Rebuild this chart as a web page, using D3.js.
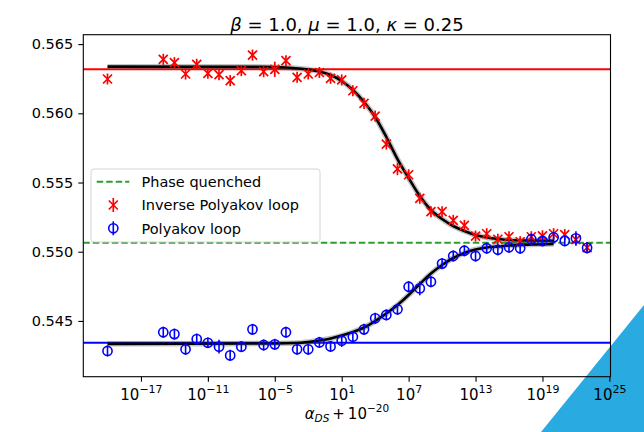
<!DOCTYPE html>
<html>
<head>
  <meta charset="utf-8">
  <script src="https://cdn.jsdelivr.net/npm/d3@7"></script>
  <style>
    body { margin: 0; background: #fff; }
    svg { font-family: "DejaVu Sans", sans-serif; display: block; }
  </style>
</head>
<body>
  <main id="container"></main>

  <script>
    // coupling values (alpha = 0 is plotted at alpha + 1e-20)
    const alpha = [0, 1e-15, 1e-14, 1e-13, 1e-12, 1e-11, 1e-10, 1e-9, 1e-8, 1e-7, 1e-6,
      1e-5, 1e-4, 1e-3, 1e-2, 1e-1, 1e0, 1e1, 1e2, 1e3, 1e4, 1e5, 1e6, 1e7, 1e8, 1e9,
      1e10, 1e11, 1e12, 1e13, 1e14, 1e15, 1e16, 1e17, 1e18, 1e19, 1e20, 1e21, 1e22, 1e23];
    const shift = 1e-20;

    const invPolyakov = [0.56248, 0.56390, 0.56366, 0.56284, 0.56354, 0.56289, 0.56279, 0.56236,
      0.56308, 0.56421, 0.56301, 0.56318, 0.56380, 0.56260, 0.56284, 0.56295, 0.56253, 0.56241,
      0.56163, 0.56072, 0.55980, 0.55778, 0.55598, 0.55556, 0.55386, 0.55289, 0.55289, 0.55226,
      0.55190, 0.55113, 0.55130, 0.55090, 0.55108, 0.55072, 0.55108, 0.55115, 0.55130, 0.55124,
      0.55088, 0.55030];
    const invPolyakovErr = [0.0004, 0.0004, 0.0004, 0.0004, 0.0004, 0.0004, 0.0004, 0.0004,
      0.0004, 0.0004, 0.0004, 0.00055, 0.0004, 0.0004, 0.0004, 0.0004, 0.0004, 0.0004,
      0.0004, 0.0004, 0.0004, 0.0004, 0.00045, 0.0004, 0.0004, 0.0004, 0.0004, 0.0004,
      0.0004, 0.0004, 0.0004, 0.0004, 0.0004, 0.0004, 0.0004, 0.0004, 0.0004, 0.0004,
      0.00045, 0.0004];

    const polyakov = [0.54283, 0.54418, 0.54405, 0.54295, 0.54369, 0.54342, 0.54314, 0.54251,
      0.54314, 0.54439, 0.54326, 0.54331, 0.54418, 0.54295, 0.54295, 0.54345, 0.54316, 0.54357,
      0.54386, 0.54439, 0.54519, 0.54543, 0.54584, 0.54747, 0.54735, 0.54783, 0.54914, 0.54969,
      0.55007, 0.54969, 0.55025, 0.55014, 0.55032, 0.55025, 0.55090, 0.55078, 0.55104, 0.55078,
      0.55097, 0.55028];
    const polyakovErr = [0.0004, 0.0004, 0.0004, 0.0004, 0.0004, 0.00038, 0.0005, 0.0004,
      0.0004, 0.0004, 0.0004, 0.0004, 0.0004, 0.0004, 0.0004, 0.0004, 0.0004, 0.00045,
      0.0004, 0.0004, 0.0004, 0.0004, 0.0004, 0.0004, 0.0005, 0.0004, 0.0004, 0.0004,
      0.0004, 0.0004, 0.0004, 0.0004, 0.0004, 0.0004, 0.0004, 0.0004, 0.0004, 0.0004,
      0.0005, 0.0004];

    // fitted curves (log10 of alpha + 1e-20)
    const invFitLog = [-20, -6, -4, -2, -1, 0, 1, 2, 3, 4, 5, 6, 7, 8, 9, 10, 11, 12, 13, 14, 15, 16, 18, 20];
    const invFit = [0.56337, 0.563355, 0.56331, 0.563165, 0.56302, 0.562767, 0.562334, 0.561684,
      0.560817, 0.559733, 0.558288, 0.556698, 0.555325, 0.554024, 0.553013, 0.552362, 0.551857,
      0.551496, 0.551207, 0.551026, 0.550918, 0.550846, 0.55081, 0.550795];
    const polFitLog = [-20, -5, -3, -2, -1, 0, 1, 2, 3, 4, 5, 6, 7, 8, 9, 10, 11, 12, 13, 14, 15, 16, 18, 20];
    const polFit = [0.543345, 0.543367, 0.543403, 0.543475, 0.543584, 0.543728, 0.543945, 0.544198,
      0.544523, 0.544993, 0.545535, 0.546149, 0.546871, 0.547666, 0.548425, 0.549039, 0.549545,
      0.549906, 0.550159, 0.550303, 0.550376, 0.550448, 0.55052, 0.550556];

    // reference levels
    const invLevel = 0.56318;
    const polLevel = 0.54342;
    const quenched = 0.55065;

    const yTicks = [0.545, 0.550, 0.555, 0.560, 0.565];
    const xTickExp = [-17, -11, -5, 1, 7, 13, 19, 25];
    const legendLabels = ["Phase quenched", "Inverse Polyakov loop", "Polyakov loop"];
    const title = [["β", true], [" = 1.0, ", false], ["μ", true], [" = 1.0, ", false], ["κ", true], [" = 0.25", false]];

    const width = 644, height = 432;
    const plotL = 83.3, plotR = 610.5, plotT = 34.7, plotB = 376.7;
    const red = "#ff0000", blue = "#0000ff", green = "#2ca02c";

    const svg = d3.select("#container").append("svg")
      .attr("width", width)
      .attr("height", height);

    // decorative corner
    svg.append("polygon")
      .attr("points", "644,305 541,432 644,432")
      .attr("fill", "#29abe2");

    const x = d3.scaleLog()
      .domain([Math.pow(10, -22.17), Math.pow(10, 25.1)])
      .range([plotL, plotR]);
    const y = d3.scaleLinear()
      .domain([0.54097, 0.56568])
      .range([plotB, plotT]);

    const plot = svg.append("g");

    // horizontal reference lines
    plot.append("line")
      .attr("x1", plotL).attr("x2", plotR)
      .attr("y1", y(invLevel)).attr("y2", y(invLevel))
      .attr("stroke", red).attr("stroke-width", 2);
    plot.append("line")
      .attr("x1", plotL).attr("x2", plotR)
      .attr("y1", y(polLevel)).attr("y2", y(polLevel))
      .attr("stroke", blue).attr("stroke-width", 2);
    plot.append("line")
      .attr("x1", plotL).attr("x2", plotR)
      .attr("y1", y(quenched)).attr("y2", y(quenched))
      .attr("stroke", green).attr("stroke-width", 2)
      .attr("stroke-dasharray", "6.5,3");

    // fits
    const fitLine = d3.line()
      .x(d => x(Math.pow(10, d[0])))
      .y(d => y(d[1]))
      .curve(d3.curveMonotoneX);

    [[invFitLog, invFit], [polFitLog, polFit]].forEach(([lx, ly]) => {
      const pts = lx.map((v, i) => [v, ly[i]]);
      plot.append("path").attr("d", fitLine(pts))
        .attr("fill", "none").attr("stroke", "#555").attr("stroke-opacity", 0.35)
        .attr("stroke-width", 5.5);
      plot.append("path").attr("d", fitLine(pts))
        .attr("fill", "none").attr("stroke", "#000").attr("stroke-width", 2.6);
    });

    // data
    const invData = alpha.map((a, i) => ({ a: a + shift, v: invPolyakov[i], e: invPolyakovErr[i] }));
    const polData = alpha.map((a, i) => ({ a: a + shift, v: polyakov[i], e: polyakovErr[i] }));

    const ms = 4.5;
    const invG = plot.append("g").selectAll("g")
      .data(invData)
      .join("g")
      .attr("transform", d => `translate(${x(d.a)},${y(d.v)})`)
      .attr("stroke", red).attr("stroke-width", 1.7);
    invG.append("line")
      .attr("y1", d => y(d.v + d.e) - y(d.v)).attr("y2", d => y(d.v - d.e) - y(d.v));
    invG.append("path").attr("d", `M${-ms},${-ms}L${ms},${ms}M${-ms},${ms}L${ms},${-ms}`);

    const polG = plot.append("g").selectAll("g")
      .data(polData)
      .join("g")
      .attr("transform", d => `translate(${x(d.a)},${y(d.v)})`)
      .attr("stroke", blue).attr("stroke-width", 1.6).attr("fill", "none");
    polG.append("line")
      .attr("y1", d => y(d.v + d.e) - y(d.v)).attr("y2", d => y(d.v - d.e) - y(d.v));
    polG.append("circle").attr("r", 4.6);

    // axes
    const fs = 14.5;
    const xAxis = svg.append("g")
      .attr("transform", `translate(0,${plotB})`)
      .call(d3.axisBottom(x).tickValues(xTickExp.map(e => Math.pow(10, e))).tickSize(5).tickFormat(""));
    xAxis.select(".domain").remove();
    xAxis.selectAll(".tick line").attr("stroke", "#000").attr("stroke-width", 1.1);

    const xl = xAxis.selectAll(".tick").data(xTickExp).append("text")
      .attr("fill", "#000").attr("y", 23.5)
      .attr("text-anchor", "middle")
      .attr("font-family", "DejaVu Sans")
      .style("font-size", "15px");
    xl.append("tspan").text("10");
    xl.append("tspan").attr("dy", -6.8).style("font-size", "11px")
      .text(e => String(e).replace("-", "\u2212"));

    const yAxis = svg.append("g")
      .attr("transform", `translate(${plotL},0)`)
      .call(d3.axisLeft(y).tickValues(yTicks).tickSize(5).tickPadding(5).tickFormat(d3.format(".3f")));
    yAxis.select(".domain").remove();
    yAxis.selectAll(".tick line").attr("stroke", "#000").attr("stroke-width", 1.1);
    yAxis.selectAll(".tick text").attr("fill", "#000")
      .style("font-size", fs + "px").style("font-family", "DejaVu Sans");

    // frame
    svg.append("rect")
      .attr("x", plotL).attr("y", plotT)
      .attr("width", plotR - plotL).attr("height", plotB - plotT)
      .attr("fill", "none").attr("stroke", "#000").attr("stroke-width", 1.1);

    // x label
    const xlab = svg.append("text")
      .attr("x", (plotL + plotR) / 2).attr("y", 419)
      .attr("text-anchor", "middle")
      .style("font-size", "15px");
    xlab.append("tspan").style("font-style", "italic").text("α");
    xlab.append("tspan").attr("dy", 3).style("font-size", "10.5px").style("font-style", "italic").text("DS");
    xlab.append("tspan").attr("dy", -3).text("\u2009+\u200910");
    xlab.append("tspan").attr("dy", -6.8).style("font-size", "10.5px").text("\u221220");

    // title
    const tt = svg.append("text")
      .attr("x", (plotL + plotR) / 2).attr("y", 30.5)
      .attr("text-anchor", "middle")
      .style("font-size", "18px");
    tt.selectAll("tspan").data(title).join("tspan")
      .style("font-style", d => d[1] ? "italic" : "normal")
      .text(d => d[0]);

    // legend
    const lg = svg.append("g").attr("transform", "translate(91,169)");
    lg.append("rect")
      .attr("width", 229).attr("height", 73).attr("rx", 3)
      .attr("fill", "#fff").attr("fill-opacity", 0.8)
      .attr("stroke", "#d4d4d4").attr("stroke-width", 1);
    const rowY = d3.scalePoint().domain(legendLabels).range([12.7, 59.3]);
    lg.selectAll("text.lab").data(legendLabels).join("text")
      .attr("class", "lab")
      .attr("x", 50.5).attr("y", d => rowY(d) + 5.2)
      .style("font-size", fs + "px")
      .text(d => d);
    lg.append("line")
      .attr("x1", 5.7).attr("x2", 38.3)
      .attr("y1", rowY(legendLabels[0])).attr("y2", rowY(legendLabels[0]))
      .attr("stroke", green).attr("stroke-width", 2).attr("stroke-dasharray", "6.5,3");
    const li = lg.append("g")
      .attr("transform", `translate(22.3,${rowY(legendLabels[1])})`)
      .attr("stroke", red).attr("stroke-width", 1.7);
    li.append("line").attr("y1", -7).attr("y2", 7);
    li.append("path").attr("d", `M${-ms},${-ms}L${ms},${ms}M${-ms},${ms}L${ms},${-ms}`);
    const lp = lg.append("g")
      .attr("transform", `translate(22.3,${rowY(legendLabels[2])})`)
      .attr("stroke", blue).attr("stroke-width", 1.6).attr("fill", "none");
    lp.append("line").attr("y1", -7).attr("y2", 7);
    lp.append("circle").attr("r", 4.6);
  </script>
</body>
</html>
